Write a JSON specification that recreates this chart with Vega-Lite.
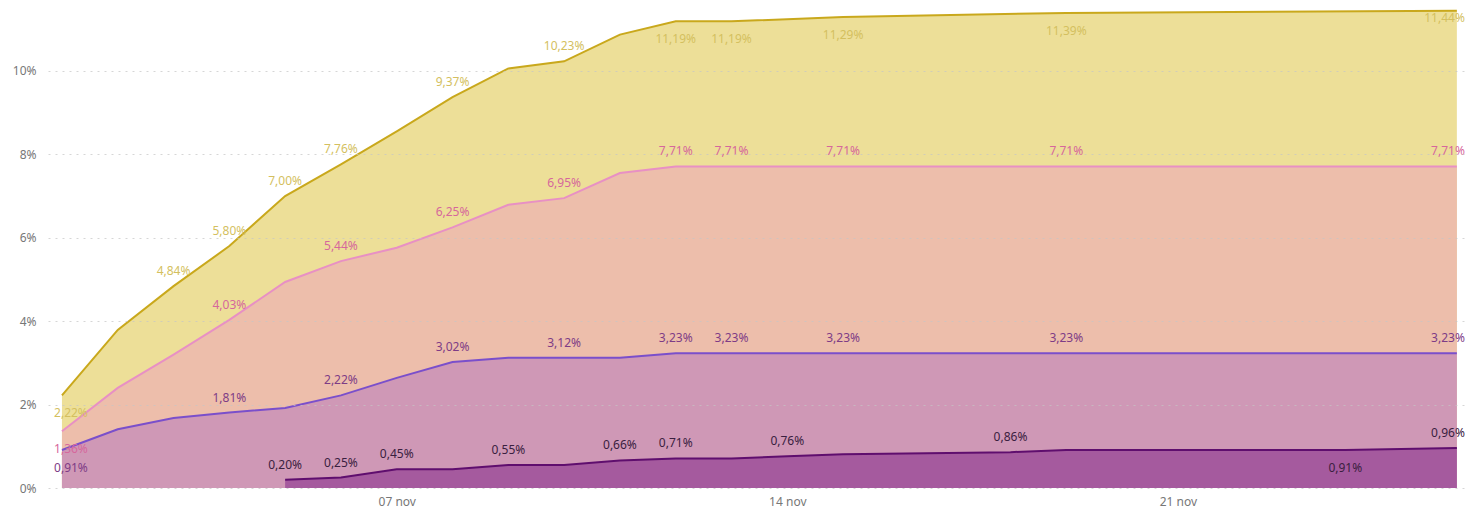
{
  "$schema": "https://vega.github.io/schema/vega-lite/v6.json",
  "width": 1417,
  "height": 488,
  "autosize": "none",
  "padding": {"left": 48, "top": 0, "right": 3, "bottom": 22},
  "background": "white",
  "config": {"view": {"stroke": null}, "font": "Noto Sans"},
  "data": {
    "values": [
      {"s": "A", "d": "2020-11-01", "v": 2.22},
      {"s": "A", "d": "2020-11-02", "v": 3.79},
      {"s": "A", "d": "2020-11-03", "v": 4.84},
      {"s": "A", "d": "2020-11-04", "v": 5.80},
      {"s": "A", "d": "2020-11-05", "v": 7.00},
      {"s": "A", "d": "2020-11-06", "v": 7.76},
      {"s": "A", "d": "2020-11-07", "v": 8.55},
      {"s": "A", "d": "2020-11-08", "v": 9.37},
      {"s": "A", "d": "2020-11-09", "v": 10.06},
      {"s": "A", "d": "2020-11-10", "v": 10.23},
      {"s": "A", "d": "2020-11-11", "v": 10.87},
      {"s": "A", "d": "2020-11-12", "v": 11.19},
      {"s": "A", "d": "2020-11-13", "v": 11.19},
      {"s": "A", "d": "2020-11-15", "v": 11.29},
      {"s": "A", "d": "2020-11-19", "v": 11.39},
      {"s": "A", "d": "2020-11-26", "v": 11.44},

      {"s": "B", "d": "2020-11-01", "v": 1.36},
      {"s": "B", "d": "2020-11-02", "v": 2.40},
      {"s": "B", "d": "2020-11-03", "v": 3.20},
      {"s": "B", "d": "2020-11-04", "v": 4.03},
      {"s": "B", "d": "2020-11-05", "v": 4.94},
      {"s": "B", "d": "2020-11-06", "v": 5.44},
      {"s": "B", "d": "2020-11-07", "v": 5.76},
      {"s": "B", "d": "2020-11-08", "v": 6.25},
      {"s": "B", "d": "2020-11-09", "v": 6.79},
      {"s": "B", "d": "2020-11-10", "v": 6.95},
      {"s": "B", "d": "2020-11-11", "v": 7.55},
      {"s": "B", "d": "2020-11-12", "v": 7.71},
      {"s": "B", "d": "2020-11-13", "v": 7.71},
      {"s": "B", "d": "2020-11-15", "v": 7.71},
      {"s": "B", "d": "2020-11-19", "v": 7.71},
      {"s": "B", "d": "2020-11-26", "v": 7.71},

      {"s": "C", "d": "2020-11-01", "v": 0.91},
      {"s": "C", "d": "2020-11-02", "v": 1.41},
      {"s": "C", "d": "2020-11-03", "v": 1.68},
      {"s": "C", "d": "2020-11-04", "v": 1.81},
      {"s": "C", "d": "2020-11-05", "v": 1.92},
      {"s": "C", "d": "2020-11-06", "v": 2.22},
      {"s": "C", "d": "2020-11-07", "v": 2.64},
      {"s": "C", "d": "2020-11-08", "v": 3.02},
      {"s": "C", "d": "2020-11-09", "v": 3.12},
      {"s": "C", "d": "2020-11-10", "v": 3.12},
      {"s": "C", "d": "2020-11-11", "v": 3.12},
      {"s": "C", "d": "2020-11-12", "v": 3.23},
      {"s": "C", "d": "2020-11-13", "v": 3.23},
      {"s": "C", "d": "2020-11-15", "v": 3.23},
      {"s": "C", "d": "2020-11-19", "v": 3.23},
      {"s": "C", "d": "2020-11-26", "v": 3.23},

      {"s": "D", "d": "2020-11-05", "v": 0.20},
      {"s": "D", "d": "2020-11-06", "v": 0.25},
      {"s": "D", "d": "2020-11-07", "v": 0.45},
      {"s": "D", "d": "2020-11-08", "v": 0.45},
      {"s": "D", "d": "2020-11-09", "v": 0.55},
      {"s": "D", "d": "2020-11-10", "v": 0.55},
      {"s": "D", "d": "2020-11-11", "v": 0.66},
      {"s": "D", "d": "2020-11-12", "v": 0.71},
      {"s": "D", "d": "2020-11-13", "v": 0.71},
      {"s": "D", "d": "2020-11-14", "v": 0.76},
      {"s": "D", "d": "2020-11-15", "v": 0.81},
      {"s": "D", "d": "2020-11-18", "v": 0.86},
      {"s": "D", "d": "2020-11-19", "v": 0.91},
      {"s": "D", "d": "2020-11-24", "v": 0.91},
      {"s": "D", "d": "2020-11-26", "v": 0.96}
    ]
  },
  "transform": [
    {"calculate": "replace(format(datum.v, '.2f'), '.', ',') + '%'", "as": "t"},
    {"calculate": "utcdate(datum.d)", "as": "day"}
  ],
  "encoding": {
    "x": {
      "field": "d",
      "type": "temporal",
      "scale": {
        "type": "utc",
        "domain": [
          {"year": 2020, "month": 10, "date": 31, "hours": 18, "utc": true},
          {"year": 2020, "month": 11, "date": 26, "hours": 3, "minutes": 30, "utc": true}
        ]
      },
      "axis": {
        "title": null,
        "values": [
          {"year": 2020, "month": 11, "date": 7, "utc": true},
          {"year": 2020, "month": 11, "date": 14, "utc": true},
          {"year": 2020, "month": 11, "date": 21, "utc": true}
        ],
        "labelExpr": "lower(utcFormat(datum.value, '%d %b'))",
        "grid": false,
        "domain": false,
        "ticks": false,
        "labelColor": "#777777",
        "labelFontSize": 12,
        "labelPadding": 8
      }
    },
    "y": {
      "field": "v",
      "type": "quantitative",
      "scale": {"domain": [0, 11.7], "nice": false, "zero": true},
      "axis": {
        "title": null,
        "values": [0, 2, 4, 6, 8, 10],
        "labelExpr": "datum.value + '%'",
        "grid": true,
        "gridDash": [2, 5],
        "gridColor": "#c4c4c4",
        "gridOpacity": 0.7,
        "domain": false,
        "ticks": false,
        "labelColor": "#777777",
        "labelFontSize": 12,
        "labelPadding": 12,
        "zindex": 1
      }
    }
  },
  "layer": [
    {
      "transform": [{"filter": "datum.s == 'A'"}],
      "mark": {"type": "area", "color": "#EDDF98", "opacity": 1, "line": {"color": "#C9A81C", "strokeWidth": 2}}
    },
    {
      "transform": [{"filter": "datum.s == 'B'"}],
      "mark": {"type": "area", "color": "#EDBEAB", "opacity": 1, "line": {"color": "#E890C4", "strokeWidth": 2}}
    },
    {
      "transform": [{"filter": "datum.s == 'C'"}],
      "mark": {"type": "area", "color": "#CF98B6", "opacity": 1, "line": {"color": "#7A4FCB", "strokeWidth": 2}}
    },
    {
      "transform": [{"filter": "datum.s == 'D'"}],
      "mark": {"type": "area", "color": "#A55A9E", "opacity": 1, "line": {"color": "#5F0E6E", "strokeWidth": 2}}
    },
    {
      "transform": [{"filter": "(datum.s == 'A' && indexof([3,4,5,6,8,10], datum.day) >= 0) || ((datum.s == 'B' || datum.s == 'C') && indexof([4,6,8,10,12,13,15,19], datum.day) >= 0) || (datum.s == 'D' && indexof([5,6,7,9,11,12,14,18], datum.day) >= 0)"}],
      "mark": {"type": "text", "dy": -15, "fontSize": 12},
      "encoding": {
        "text": {"field": "t"},
        "color": {"field": "s", "type": "nominal", "scale": {"domain": ["A", "B", "C", "D"], "range": ["#D4BF5F", "#D6679C", "#7E3C86", "#3A2040"]}, "legend": null}
      }
    },
    {
      "transform": [{"filter": "(datum.s == 'A' && indexof([12,13,15,19], datum.day) >= 0) || (datum.s == 'D' && datum.day == 24)"}],
      "mark": {"type": "text", "dy": 18, "fontSize": 12},
      "encoding": {
        "text": {"field": "t"},
        "color": {"field": "s", "type": "nominal", "legend": null}
      }
    },
    {
      "transform": [{"filter": "datum.day == 1"}],
      "mark": {"type": "text", "dy": 18, "dx": 9, "fontSize": 12},
      "encoding": {
        "text": {"field": "t"},
        "color": {"field": "s", "type": "nominal", "legend": null}
      }
    },
    {
      "transform": [{"filter": "datum.day == 26 && datum.s != 'A'"}],
      "mark": {"type": "text", "dy": -15, "dx": 8, "align": "right", "fontSize": 12},
      "encoding": {
        "text": {"field": "t"},
        "color": {"field": "s", "type": "nominal", "legend": null}
      }
    },
    {
      "transform": [{"filter": "datum.day == 26 && datum.s == 'A'"}],
      "mark": {"type": "text", "dy": 7, "dx": 8, "align": "right", "fontSize": 12},
      "encoding": {
        "text": {"field": "t"},
        "color": {"field": "s", "type": "nominal", "legend": null}
      }
    }
  ]
}
